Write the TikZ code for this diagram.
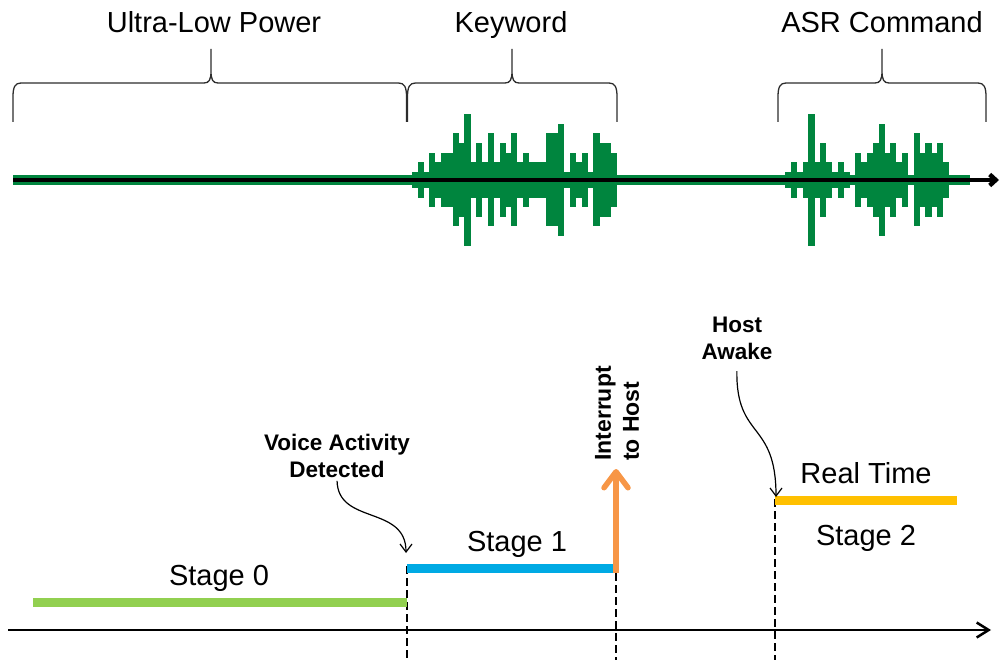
\documentclass[tikz,border=0pt]{standalone}
\usepackage{fontspec}
\setmainfont{Liberation Sans}
\usetikzlibrary{arrows.meta}
\definecolor{wavegreen}{RGB}{0,133,62}
\definecolor{szero}{RGB}{146,208,80}
\definecolor{sone}{RGB}{0,170,228}
\definecolor{stwo}{RGB}{255,192,0}
\definecolor{irqorange}{RGB}{247,150,70}
\definecolor{bracegray}{RGB}{45,45,45}
\newcommand\mybrace[3]{%
  \draw[bracestyle] (#1,122) -- (#1,97) .. controls (#1,87) and (#1+2,83) .. (#1+8,83)
    -- (#2-7,83) .. controls (#2-2,83) and (#2,80) .. (#2,71) -- (#2,49)
    (#2,71) .. controls (#2,80) and (#2+2,83) .. (#2+7,83)
    -- (#3-8,83) .. controls (#3-2,83) and (#3,87) .. (#3,97) -- (#3,122);}
\begin{document}
\begin{tikzpicture}[x=1pt,y=-1pt,
  bracestyle/.style={draw=bracegray, line width=1.3pt},
  biglabel/.style={font=\fontsize{29}{34}\selectfont, anchor=base, inner sep=0pt},
  eventlabel/.style={font=\bfseries\fontsize{22.5}{27}\selectfont, align=center, inner sep=0pt},
  stageline/.style={line width=9pt},
  marker/.style={line width=2.3pt, dash pattern=on 8pt off 4pt},
  callout/.style={line width=1.2pt, -{Straight Barb[length=8pt,width=12pt]}},
  bar/.style={fill=wavegreen},
]
\useasboundingbox (0,0) rectangle (1000,660);

% ---- top labels and braces
\node[biglabel] (ulp) at (214,33) {Ultra-Low Power};
\node[biglabel] (kw) at (511,33) {Keyword};
\node[biglabel] (asr) at (882,33) {ASR Command};
\mybrace{13}{211}{406.5}
\mybrace{407.5}{512}{617}
\mybrace{778}{882}{986}

% ---- waveform
\fill[wavegreen] (13,175.5) rectangle (970,185.5);
\foreach \lv [count=\i from 0] in {1,2,1,3,2,3,3,5,4,7,2,4,2,5,2,4,3,5,2,3,2,2,2,5,5,6,1,3,2,3,1,5,4,4,3}
  {\fill[bar] ({411.7+\i*5.86},{180-(9.6*\lv-1.5)}) rectangle ({411.7+(\i+1)*5.86+0.3},{180+(9.6*\lv-1.5)});}
\foreach \lv [count=\i from 0] in {1,2,1,2,7,2,4,2,1,2,1,0,3,2,3,4,6,3,4,2,3,0,5,3,4,3,4,2}
  {\fill[bar] ({785+\i*5.85},{180-(9.6*\lv-1.5)}) rectangle ({785+(\i+1)*5.85+0.3},{180+(9.6*\lv-1.5)});}
\coordinate (wstart) at (13,180);
\coordinate (wend) at (999,180);
\draw[line width=4.5pt, -{Straight Barb[length=6pt,width=11pt]}] (wstart) -- (wend);

% ---- time axis and markers
\coordinate (tstart) at (8,630);
\coordinate (tend) at (991,630);
\draw[line width=2.5pt, -{Straight Barb[length=12pt,width=15pt]}] (tstart) -- (tend);

\coordinate (m1top) at (407,566);
\coordinate (m1bot) at (407,662);
\coordinate (m2top) at (616,573);
\coordinate (m2bot) at (616,662);
\coordinate (m3top) at (775,499);
\coordinate (m3bot) at (775,662);
\draw[marker] (m1top) -- (m1bot);
\draw[marker] (m2top) -- (m2bot);
\draw[marker] (m3top) -- (m3bot);

% ---- stage lines
\coordinate (s0a) at (33,602);
\coordinate (s0b) at (407,602);
\coordinate (s1a) at (407,568.5);
\coordinate (s1b) at (617,568.5);
\coordinate (s2a) at (775,500);
\coordinate (s2b) at (957,500);
\draw[stageline, szero] (s0a) -- (s0b);
\draw[stageline, sone] (s1a) -- (s1b);
\draw[stageline, stwo] (s2a) -- (s2b);

\node[biglabel] (st0) at (219,585) {Stage 0};
\node[biglabel] (st1) at (517,551) {Stage 1};
\node[biglabel] (rt) at (866,483) {Real Time};
\node[biglabel] (st2) at (866,545) {Stage 2};

% ---- interrupt arrow
\coordinate (irqa) at (616,573);
\coordinate (irqb) at (616,469);
\draw[irqorange, line width=5.5pt, -{Straight Barb[length=16pt,width=24pt,round]}] (irqa) -- (irqb);
\node[eventlabel, font=\bfseries\fontsize{23}{28}\selectfont, align=left, rotate=90, anchor=west] (irq) at (617,461) {Interrupt\\to Host};

% ---- callouts
\node[eventlabel, anchor=north] (vad) at (337,434) {Voice Activity\\Detected};
\coordinate (vadtip) at (406,553);
\draw[callout, shorten <=3pt] (vad.south) .. controls (338,525) and (406,505) .. (vadtip);

\node[eventlabel, anchor=north] (host) at (737,317) {Host\\Awake};
\coordinate (hosttip) at (776,497);
\draw[callout, shorten <=11pt] (host.south) .. controls (736,440) and (776,420) .. (hosttip);
\end{tikzpicture}
\end{document}
